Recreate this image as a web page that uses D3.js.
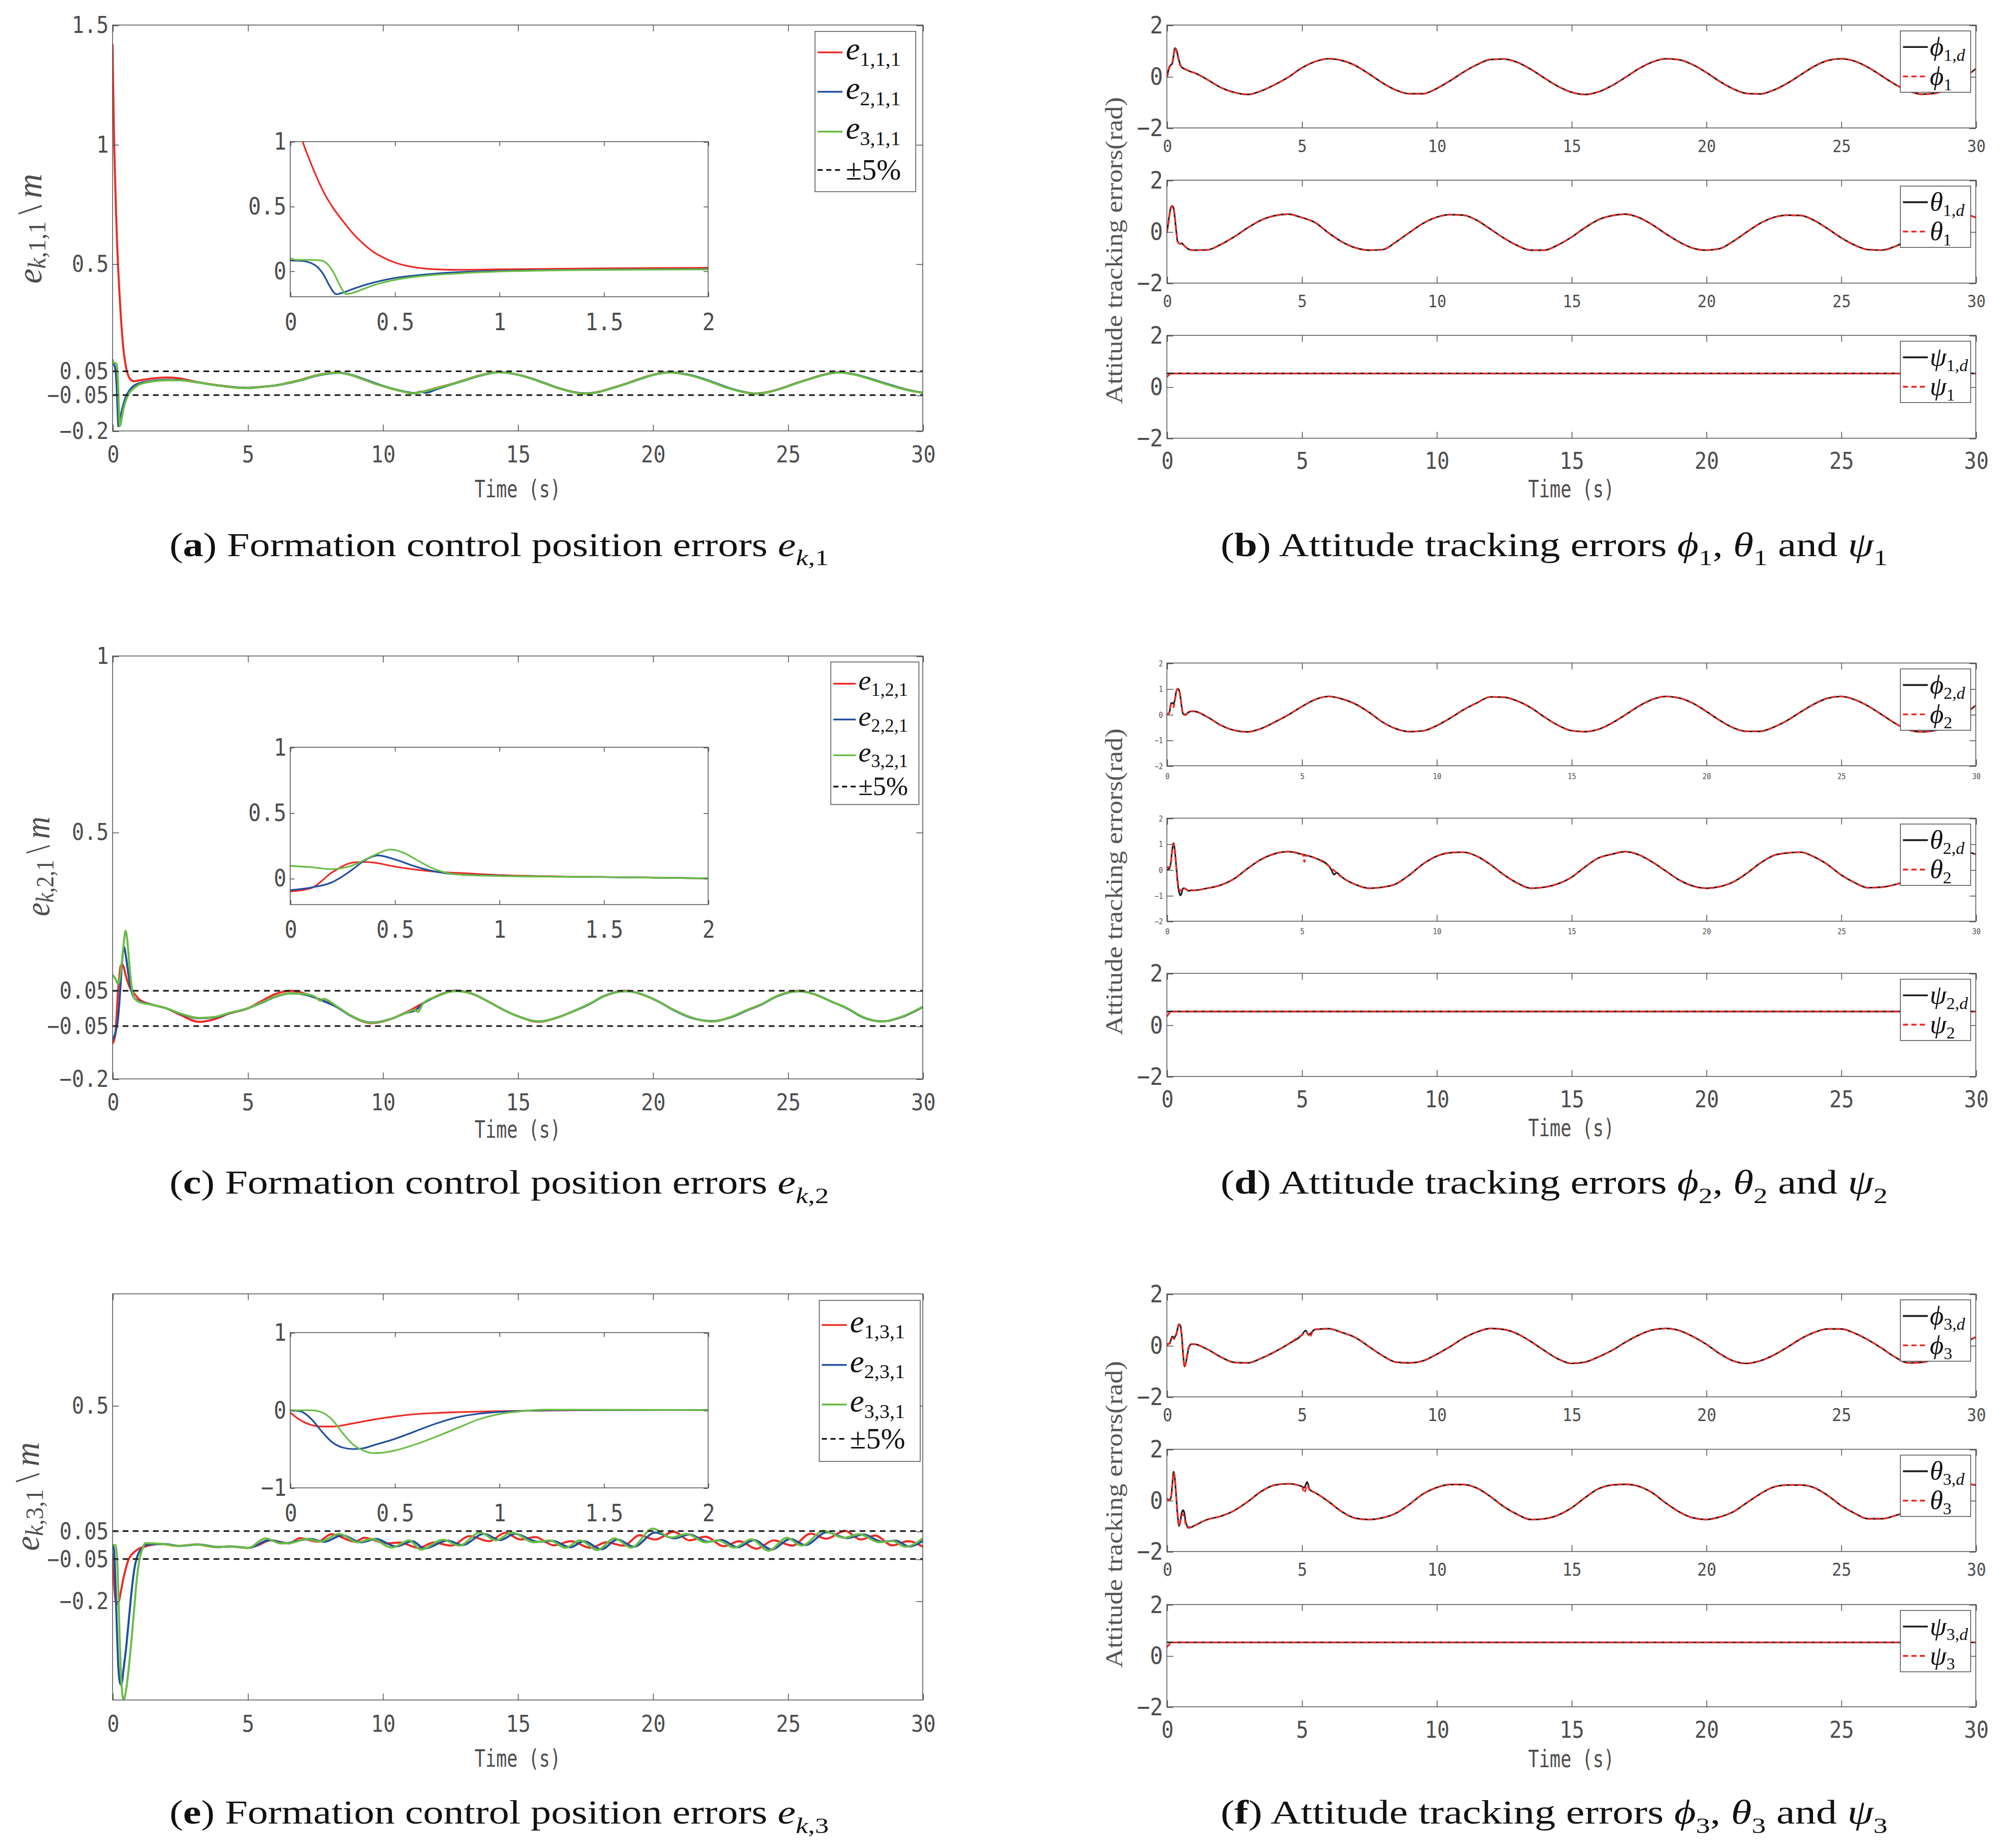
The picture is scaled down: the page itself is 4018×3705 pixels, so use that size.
<!DOCTYPE html>
<html>
<head>
<meta charset="utf-8">
<script src="https://cdn.jsdelivr.net/npm/d3@7/dist/d3.min.js"></script>
<style>
  body { margin: 0; background: #fff; }
</style>
</head>
<body>
<script>
// ---------- values ----------
// panel (a): e_{k,1,1}, pairs [time s, error m]
const e111 = [[0,1.42],[0.02,1.26],[0.04,1.12],[0.06,1.0],[0.09,0.87],[0.12,0.75],[0.16,0.61],[0.2,0.5],[0.25,0.39],[0.3,0.29],[0.35,0.21],[0.4,0.145],[0.45,0.1],[0.5,0.065],[0.55,0.042],[0.6,0.027],[0.7,0.012],[0.8,0.008],[1.0,0.012],[1.5,0.02],[2.0,0.024],[2.5,0.02],[3.0,0.008],[3.5,-0.002],[4.0,-0.01],[4.5,-0.017],[5.0,-0.02],[5.5,-0.015],[6.0,-0.01],[6.5,0.002],[7.0,0.015],[7.5,0.032],[8.0,0.042],[8.3,0.045],[8.8,0.035],[9.3,0.015],[9.8,-0.005],[10.3,-0.022],[10.8,-0.036],[11.1,-0.042],[11.5,-0.035],[12.0,-0.02],[12.5,-0.005],[13.0,0.012],[13.5,0.03],[14.0,0.043],[14.3,0.047],[14.8,0.04],[15.5,0.02],[16.0,0.0],[16.5,-0.02],[17.0,-0.035],[17.5,-0.043],[18.0,-0.036],[18.5,-0.02],[19.0,-0.002],[19.5,0.018],[20.0,0.035],[20.6,0.046],[21.2,0.038],[21.8,0.02],[22.3,0.0],[22.8,-0.02],[23.3,-0.035],[23.8,-0.043],[24.3,-0.036],[24.8,-0.02],[25.3,0.0],[25.8,0.018],[26.3,0.035],[26.9,0.046],[27.5,0.036],[28.0,0.02],[28.5,0.002],[29.0,-0.015],[29.5,-0.03],[30.0,-0.04]];
const e211 = [[0,0.08],[0.05,0.078],[0.1,0.06],[0.13,0.03],[0.16,-0.03],[0.19,-0.12],[0.22,-0.18],[0.25,-0.17],[0.3,-0.14],[0.4,-0.09],[0.5,-0.055],[0.6,-0.035],[0.7,-0.02],[0.8,-0.01],[1.0,0.0],[1.5,0.01],[2.0,0.014],[2.5,0.013],[3.0,0.006],[3.5,-0.003],[4.0,-0.011],[4.5,-0.017],[5.0,-0.02],[5.5,-0.016],[6.0,-0.01],[6.5,0.0],[7.0,0.013],[7.5,0.03],[8.0,0.04],[8.4,0.044],[8.9,0.033],[9.4,0.013],[9.9,-0.007],[10.4,-0.024],[10.9,-0.037],[11.2,-0.042],[11.4,-0.036],[11.6,-0.04],[12.0,-0.025],[12.5,-0.007],[13.0,0.01],[13.5,0.028],[14.0,0.042],[14.3,0.046],[14.8,0.04],[15.5,0.02],[16.0,0.0],[16.5,-0.02],[17.0,-0.036],[17.5,-0.043],[18.0,-0.037],[18.5,-0.021],[19.0,-0.003],[19.5,0.016],[20.0,0.034],[20.6,0.045],[21.2,0.038],[21.8,0.021],[22.3,0.001],[22.8,-0.019],[23.3,-0.035],[23.8,-0.044],[24.3,-0.037],[24.8,-0.021],[25.3,-0.001],[25.8,0.017],[26.3,0.034],[26.9,0.045],[27.5,0.036],[28.0,0.021],[28.5,0.003],[29.0,-0.014],[29.5,-0.03],[30.0,-0.04]];
const e311 = [[0,0.1],[0.03,0.085],[0.1,0.085],[0.15,0.08],[0.18,0.05],[0.21,-0.02],[0.24,-0.12],[0.27,-0.18],[0.3,-0.17],[0.35,-0.14],[0.4,-0.11],[0.5,-0.07],[0.6,-0.045],[0.7,-0.03],[0.8,-0.02],[1.0,-0.005],[1.5,0.008],[2.0,0.012],[2.5,0.012],[3.0,0.006],[3.5,-0.003],[4.0,-0.011],[4.5,-0.018],[5.0,-0.021],[5.5,-0.016],[6.0,-0.01],[6.5,0.001],[7.0,0.014],[7.5,0.031],[8.0,0.041],[8.3,0.044],[8.8,0.035],[9.3,0.015],[9.8,-0.005],[10.3,-0.022],[10.8,-0.036],[11.1,-0.043],[11.5,-0.036],[12.0,-0.021],[12.5,-0.006],[13.0,0.011],[13.5,0.029],[14.0,0.042],[14.3,0.046],[14.8,0.04],[15.5,0.019],[16.0,-0.001],[16.5,-0.021],[17.0,-0.036],[17.5,-0.044],[18.0,-0.037],[18.5,-0.021],[19.0,-0.003],[19.5,0.017],[20.0,0.034],[20.6,0.045],[21.2,0.037],[21.8,0.019],[22.3,-0.001],[22.8,-0.021],[23.3,-0.036],[23.8,-0.044],[24.3,-0.037],[24.8,-0.021],[25.3,-0.001],[25.8,0.017],[26.3,0.034],[26.9,0.045],[27.5,0.035],[28.0,0.019],[28.5,0.001],[29.0,-0.016],[29.5,-0.031],[30.0,-0.04]];

// panel (c): e_{k,2,1}
const e121 = [[0,-0.1],[0.1,-0.075],[0.2,0.045],[0.3,0.12],[0.35,0.125],[0.4,0.12],[0.5,0.09],[0.6,0.067],[0.7,0.05],[0.8,0.042],[1.0,0.025],[1.5,0.01],[2.0,0.0],[2.5,-0.018],[3.2,-0.038],[3.8,-0.03],[4.3,-0.015],[5.0,0.0],[5.5,0.02],[6.0,0.04],[6.6,0.05],[7.2,0.04],[7.7,0.025],[8.3,0.005],[8.8,-0.02],[9.6,-0.042],[10.3,-0.03],[10.9,-0.01],[11.5,0.015],[12.0,0.035],[12.7,0.05],[13.3,0.042],[13.9,0.02],[14.5,-0.005],[15.0,-0.022],[15.8,-0.038],[16.5,-0.025],[17.0,-0.01],[17.6,0.01],[18.2,0.035],[19.0,0.05],[19.6,0.04],[20.2,0.02],[20.8,-0.005],[21.4,-0.025],[22.2,-0.037],[22.9,-0.025],[23.5,-0.005],[24.0,0.01],[24.6,0.035],[25.4,0.05],[26.0,0.04],[26.6,0.02],[27.2,0.0],[27.8,-0.025],[28.5,-0.037],[29.2,-0.025],[30.0,0.004]];
const e221 = [[0,-0.09],[0.1,-0.07],[0.2,-0.03],[0.25,0.015],[0.3,0.07],[0.35,0.13],[0.42,0.175],[0.5,0.145],[0.6,0.09],[0.7,0.05],[0.8,0.03],[1.0,0.02],[1.5,0.01],[2.0,0.0],[2.5,-0.015],[3.2,-0.028],[3.8,-0.025],[4.3,-0.014],[5.0,0.0],[5.5,0.015],[6.0,0.032],[6.6,0.043],[7.2,0.038],[7.7,0.024],[8.3,0.004],[8.8,-0.02],[9.6,-0.04],[10.3,-0.03],[10.9,-0.012],[11.2,-0.006],[11.5,0.014],[12.0,0.034],[12.7,0.05],[13.3,0.042],[13.9,0.02],[14.5,-0.005],[15.0,-0.022],[15.8,-0.037],[16.5,-0.025],[17.0,-0.01],[17.6,0.01],[18.2,0.035],[19.0,0.049],[19.6,0.04],[20.2,0.02],[20.8,-0.006],[21.4,-0.026],[22.2,-0.036],[22.9,-0.025],[23.5,-0.005],[24.0,0.01],[24.6,0.034],[25.4,0.049],[26.0,0.04],[26.6,0.02],[27.2,0.0],[27.8,-0.026],[28.5,-0.037],[29.2,-0.025],[30.0,0.004]];
const e321 = [[0,0.095],[0.1,0.085],[0.2,0.07],[0.25,0.078],[0.3,0.1],[0.4,0.175],[0.48,0.22],[0.55,0.19],[0.6,0.145],[0.7,0.065],[0.8,0.03],[1.0,0.018],[1.5,0.01],[2.0,0.0],[2.5,-0.014],[3.2,-0.027],[3.8,-0.024],[4.3,-0.013],[5.0,0.0],[5.5,0.016],[6.0,0.033],[6.6,0.043],[7.2,0.04],[7.5,0.033],[7.7,0.022],[7.8,0.027],[8.3,0.006],[8.8,-0.019],[9.6,-0.041],[10.3,-0.03],[10.9,-0.012],[11.2,-0.004],[11.3,-0.01],[11.5,0.014],[12.0,0.034],[12.7,0.049],[13.3,0.042],[13.9,0.02],[14.5,-0.005],[15.0,-0.022],[15.8,-0.037],[16.5,-0.025],[17.0,-0.01],[17.6,0.011],[18.2,0.035],[19.0,0.049],[19.6,0.04],[20.2,0.02],[20.8,-0.005],[21.4,-0.025],[22.2,-0.037],[22.9,-0.024],[23.5,-0.004],[24.0,0.011],[24.6,0.035],[25.4,0.049],[26.0,0.04],[26.6,0.02],[27.2,0.001],[27.8,-0.025],[28.5,-0.037],[29.2,-0.024],[30.0,0.005]];

// panel (e): e_{k,3,1}
const e131 = [[0,-0.03],[0.05,-0.13],[0.1,-0.19],[0.15,-0.21],[0.2,-0.21],[0.3,-0.17],[0.4,-0.12],[0.5,-0.08],[0.6,-0.05],[0.7,-0.035],[0.8,-0.025],[1.0,-0.012],[1.2,-0.005],[1.4,0.0],[1.8,0.004],[2.4,-0.003],[3.1,0.002],[3.8,-0.007],[4.3,-0.005],[5.0,-0.01],[5.4,0.0],[5.85,0.017],[6.54,0.006],[6.93,0.025],[7.6,0.012],[8.1,0.039],[8.98,0.012],[9.32,0.026],[10.15,0.006],[10.63,0.009],[11.32,-0.01],[11.9,0.009],[12.54,-0.002],[13.22,0.032],[13.95,0.014],[14.54,0.044],[15.1,0.02],[15.65,0.029],[16.34,-0.001],[16.97,0.014],[17.7,-0.01],[18.29,0.01],[18.92,-0.002],[19.51,0.035],[20.09,0.02],[20.78,0.048],[21.36,0.017],[21.95,0.03],[22.63,-0.004],[23.21,0.014],[23.85,-0.013],[24.48,0.017],[25.17,-0.002],[25.85,0.041],[26.43,0.023],[27.12,0.051],[27.7,0.02],[28.24,0.034],[28.87,-0.001],[29.46,0.014],[30.0,-0.006]];
const e231 = [[0,0.0],[0.05,-0.015],[0.1,-0.11],[0.15,-0.27],[0.2,-0.41],[0.25,-0.48],[0.3,-0.5],[0.35,-0.49],[0.4,-0.45],[0.5,-0.37],[0.6,-0.27],[0.7,-0.17],[0.8,-0.09],[0.9,-0.045],[1.0,-0.022],[1.1,-0.01],[1.3,0.002],[1.9,0.004],[2.5,-0.003],[3.2,0.002],[3.9,-0.007],[4.4,-0.005],[5.05,-0.01],[5.8,0.018],[6.4,0.007],[7.3,0.022],[7.85,0.012],[8.5,0.035],[9.2,0.01],[9.75,0.022],[10.5,-0.005],[11.1,0.014],[11.55,-0.012],[12.4,0.016],[12.95,0.0],[13.75,0.04],[14.35,0.018],[14.9,0.04],[15.75,0.012],[16.3,0.015],[16.95,-0.008],[17.45,0.014],[18.1,-0.015],[18.7,0.02],[19.3,-0.006],[20.1,0.045],[20.8,0.024],[21.35,0.038],[22.05,0.012],[22.55,0.018],[23.15,-0.008],[23.75,0.018],[24.4,-0.016],[25.1,0.022],[25.65,0.0],[26.45,0.046],[27.2,0.025],[27.8,0.038],[28.5,0.012],[29.0,0.016],[29.5,-0.005],[30.0,0.015]];
const e331 = [[0,0.0],[0.1,0.0],[0.15,-0.025],[0.2,-0.12],[0.25,-0.29],[0.3,-0.44],[0.35,-0.52],[0.4,-0.553],[0.45,-0.545],[0.5,-0.52],[0.6,-0.44],[0.7,-0.34],[0.8,-0.23],[0.9,-0.12],[1.0,-0.05],[1.1,-0.015],[1.22,0.007],[1.85,0.004],[2.44,-0.003],[3.12,0.002],[3.8,-0.007],[4.3,-0.005],[5.02,-0.01],[5.66,0.024],[6.24,0.006],[6.63,0.008],[7.17,0.022],[7.7,0.013],[8.39,0.04],[9.07,0.01],[9.6,0.022],[10.34,-0.009],[10.98,0.017],[11.41,-0.016],[12.24,0.019],[12.83,-0.002],[13.61,0.045],[14.2,0.017],[14.78,0.045],[15.6,0.01],[16.19,0.017],[16.77,-0.01],[17.31,0.017],[17.95,-0.018],[18.58,0.024],[19.21,-0.009],[20.0,0.059],[20.68,0.027],[21.26,0.04],[21.95,0.01],[22.43,0.017],[23.02,-0.009],[23.65,0.021],[24.29,-0.02],[24.97,0.026],[25.51,-0.002],[26.34,0.051],[27.07,0.026],[27.65,0.039],[28.39,0.01],[28.87,0.015],[29.36,-0.006],[30.0,0.024]];

// attitude angles (rad): common time grid after the start-up transient
const tWave = [1,1.5,2,2.5,3,3.5,4,4.5,5,5.5,6,6.5,7,7.5,8,8.5,9,9.5,10,10.5,11,11.5,12,12.5,13,13.5,14,14.5,15,15.5,16,16.5,17,17.5,18,18.5,19,19.5,20,20.5,21,21.5,22,22.5,23,23.5,24,24.5,25,25.5,26,26.5,27,27.5,28,28.5,29,29.5,30];
const phi1Wave = [0.15,-0.12,-0.43,-0.62,-0.70,-0.56,-0.32,-0.03,0.33,0.58,0.69,0.62,0.42,0.10,-0.25,-0.53,-0.67,-0.67,-0.47,-0.17,0.17,0.46,0.66,0.68,0.55,0.28,-0.06,-0.38,-0.61,-0.70,-0.60,-0.36,-0.04,0.30,0.56,0.69,0.65,0.46,0.16,-0.19,-0.48,-0.66,-0.68,-0.53,-0.27,0.06,0.39,0.62,0.69,0.60,0.36,0.03,-0.30,-0.56,-0.69,-0.65,-0.45,-0.10,0.30];
const theta1Wave = [-0.72,-0.71,-0.50,-0.20,0.15,0.45,0.62,0.68,0.55,0.35,-0.05,-0.40,-0.63,-0.72,-0.70,-0.40,-0.03,0.32,0.56,0.66,0.64,0.44,0.10,-0.25,-0.54,-0.72,-0.72,-0.52,-0.22,0.15,0.46,0.62,0.68,0.55,0.27,-0.08,-0.40,-0.64,-0.72,-0.66,-0.38,-0.02,0.32,0.55,0.64,0.63,0.44,0.12,-0.23,-0.52,-0.70,-0.72,-0.58,-0.30,0.10,0.44,0.64,0.68,0.55];
const phi2Wave = [0.12,-0.10,-0.42,-0.62,-0.68,-0.55,-0.30,-0.02,0.30,0.58,0.70,0.60,0.40,0.08,-0.30,-0.56,-0.67,-0.64,-0.44,-0.15,0.18,0.45,0.68,0.67,0.52,0.26,-0.10,-0.42,-0.63,-0.67,-0.58,-0.34,-0.02,0.32,0.58,0.70,0.64,0.44,0.12,-0.23,-0.52,-0.66,-0.66,-0.50,-0.24,0.09,0.40,0.63,0.70,0.58,0.33,0.00,-0.34,-0.60,-0.68,-0.62,-0.40,-0.05,0.35];
const theta2Wave = [-0.80,-0.72,-0.60,-0.35,0.05,0.40,0.62,0.70,0.60,0.45,0.15,-0.30,-0.58,-0.72,-0.68,-0.55,-0.20,0.22,0.52,0.66,0.68,0.52,0.20,-0.20,-0.52,-0.72,-0.68,-0.55,-0.30,0.10,0.45,0.60,0.70,0.58,0.30,-0.05,-0.40,-0.63,-0.72,-0.66,-0.48,-0.15,0.25,0.55,0.65,0.68,0.50,0.20,-0.20,-0.50,-0.70,-0.68,-0.58,-0.40,0.00,0.38,0.60,0.70,0.60];
const phi3Wave = [0.05,-0.15,-0.45,-0.66,-0.68,-0.50,-0.25,0.05,0.40,0.62,0.65,0.50,0.30,-0.05,-0.40,-0.65,-0.68,-0.60,-0.35,-0.05,0.28,0.52,0.66,0.62,0.45,0.15,-0.20,-0.52,-0.70,-0.65,-0.45,-0.20,0.12,0.40,0.60,0.66,0.58,0.35,0.05,-0.32,-0.60,-0.70,-0.60,-0.38,-0.08,0.25,0.50,0.64,0.64,0.48,0.22,-0.10,-0.45,-0.68,-0.66,-0.50,-0.22,0.08,0.32];
const theta3Wave = [-1.00,-0.75,-0.62,-0.40,-0.05,0.35,0.60,0.65,0.55,0.30,-0.05,-0.45,-0.70,-0.75,-0.68,-0.50,-0.15,0.25,0.50,0.62,0.62,0.48,0.15,-0.25,-0.55,-0.75,-0.72,-0.58,-0.30,0.10,0.45,0.60,0.63,0.55,0.30,-0.10,-0.45,-0.68,-0.75,-0.65,-0.45,-0.10,0.25,0.52,0.60,0.60,0.50,0.20,-0.20,-0.50,-0.72,-0.72,-0.60,-0.40,-0.05,0.35,0.58,0.65,0.60];

// start-up transients (t < 1 s): desired (d) and actual
const phi1dHead = [[0,0],[0.05,0.2],[0.1,0.4],[0.15,0.45],[0.2,0.5],[0.25,0.8],[0.3,1.1],[0.35,1.05],[0.4,0.85],[0.5,0.45],[0.6,0.32],[0.7,0.28],[0.85,0.2]];
const phi1Head = [[0,-0.05],[0.05,0.15],[0.1,0.35],[0.15,0.45],[0.2,0.55],[0.25,0.85],[0.3,1.12],[0.35,1.0],[0.4,0.8],[0.5,0.42],[0.6,0.32],[0.7,0.27],[0.85,0.2]];
const theta1dHead = [[0,0],[0.05,0.3],[0.1,0.7],[0.15,0.95],[0.2,1.0],[0.25,0.9],[0.3,0.5],[0.35,0.0],[0.4,-0.4],[0.45,-0.45],[0.5,-0.48],[0.55,-0.45],[0.6,-0.5],[0.7,-0.6],[0.8,-0.68],[0.9,-0.71]];
const theta1Head = [[0,-0.05],[0.05,0.25],[0.1,0.65],[0.15,0.9],[0.2,1.0],[0.25,0.92],[0.3,0.55],[0.35,0.05],[0.4,-0.35],[0.45,-0.45],[0.5,-0.47],[0.55,-0.45],[0.6,-0.5],[0.7,-0.6],[0.8,-0.68],[0.9,-0.71]];
const phi2dHead = [[0,0],[0.05,0.02],[0.1,0.1],[0.15,0.42],[0.2,0.45],[0.25,0.4],[0.3,0.6],[0.35,0.9],[0.4,1.0],[0.45,0.95],[0.5,0.7],[0.55,0.3],[0.6,0.02],[0.7,0.0],[0.8,0.08],[0.9,0.12]];
const phi2Head = [[0,0.05],[0.05,0.0],[0.1,0.12],[0.15,0.38],[0.2,0.4],[0.25,0.28],[0.3,0.55],[0.35,0.88],[0.4,1.0],[0.45,0.97],[0.5,0.72],[0.55,0.3],[0.6,0.0],[0.7,-0.02],[0.8,0.08],[0.9,0.12]];
const theta2dHead = [[0,0],[0.1,0.05],[0.15,0.3],[0.2,0.8],[0.25,1.03],[0.3,0.7],[0.35,0.1],[0.4,-0.5],[0.45,-0.85],[0.5,-1.0],[0.55,-0.9],[0.6,-0.72],[0.7,-0.75],[0.8,-0.82],[0.9,-0.8]];
const theta2Head = [[0,0.1],[0.1,0.1],[0.15,0.25],[0.2,0.75],[0.25,1.0],[0.3,0.75],[0.35,0.15],[0.4,-0.4],[0.45,-0.75],[0.5,-0.82],[0.55,-0.78],[0.6,-0.7],[0.7,-0.75],[0.8,-0.8],[0.9,-0.8]];
const phi3dHead = [[0,0.05],[0.1,0.07],[0.2,0.35],[0.27,0.3],[0.35,0.45],[0.45,0.82],[0.5,0.78],[0.55,0.4],[0.6,-0.3],[0.66,-0.82],[0.72,-0.6],[0.8,-0.15],[0.9,0.05]];
const phi3Head = [[0,0.0],[0.1,0.1],[0.2,0.3],[0.27,0.25],[0.35,0.4],[0.45,0.8],[0.5,0.75],[0.55,0.35],[0.6,-0.35],[0.66,-0.85],[0.72,-0.55],[0.8,-0.1],[0.9,0.05]];
const theta3dHead = [[0,0.05],[0.1,0.03],[0.15,0.1],[0.2,0.6],[0.25,1.12],[0.3,0.8],[0.35,0.1],[0.4,-0.6],[0.45,-1.0],[0.5,-0.8],[0.55,-0.5],[0.6,-0.38],[0.65,-0.5],[0.7,-0.85],[0.8,-1.05],[0.9,-1.05]];
const theta3Head = [[0,0.08],[0.1,0.0],[0.15,0.1],[0.2,0.55],[0.25,1.08],[0.3,0.85],[0.35,0.15],[0.4,-0.55],[0.45,-1.0],[0.5,-0.85],[0.55,-0.6],[0.6,-0.55],[0.65,-0.65],[0.7,-0.95],[0.8,-1.08],[0.9,-1.05]];
// short glitches around t = 5-6 s
const phi3dKink = [[5.15,0.58],[5.25,0.42]];
const phi3Kink = [[5.2,0.5],[5.3,0.32],[5.4,0.52]];
const theta2dKink = [[6.1,0.0],[6.2,-0.19],[6.3,-0.12]];
const theta2Kink = [[5.05,0.58],[5.1,0.3],[5.15,0.55]];
const theta3dKink = [[5.1,0.5],[5.2,0.72],[5.3,0.42]];
const theta3Kink = [[5.1,0.3],[5.2,0.6],[5.3,0.4]];
// yaw: constant reference, actual starts a little low
const psiRef = [[0,0.52],[30,0.52]];
const psi1Head = [[0,0.38],[0.08,0.46],[0.15,0.51],[0.3,0.52],[30,0.52]];
const psi2Head = [[0,0.33],[0.08,0.44],[0.15,0.5],[0.3,0.52],[30,0.52]];
const psi3Head = [[0,0.33],[0.1,0.45],[0.2,0.51],[0.3,0.52],[30,0.52]];

const timeTicks = [0,5,10,15,20,25,30];
const insetTicks = [0,0.5,1,1.5,2];

// ---------- drawing ----------
const W = 1568, H = 1446;
const red = '#ED2A25', blue = '#1F4F9F', green = '#6ABD45', black = '#1a1a1a';
const axisColor = '#4d4d4d', tickColor = '#4d4d4d';
const tickFont = '"DejaVu Sans Mono", "Liberation Mono", monospace';
const serif = '"Liberation Serif", "DejaVu Serif", serif';

const svg = d3.select('body').append('svg')
  .attr('width', 4018).attr('height', 3705)
  .attr('viewBox', `0 0 ${W} ${H}`);
svg.append('rect').attr('width', W).attr('height', H).attr('fill', '#fff');
const defs = svg.append('defs');
let clipCount = 0;

const fmt = d => (d < 0 ? '\u2212' : '') + String(Math.abs(d));

function stretch(sel, k) {
  sel.each(function() {
    const t = d3.select(this);
    const x = +t.attr('x') || 0, y = +t.attr('y') || 0;
    t.attr('x', null).attr('y', null).attr('transform', `translate(${x},${y}) scale(1,${k})`);
  });
}

// axes with inward ticks on all four sides, MATLAB style box
function axesBox(box, xDom, yDom, o) {
  const g = svg.append('g');
  const x = d3.scaleLinear().domain(xDom).range([box.x0, box.x1]);
  const y = d3.scaleLinear().domain(yDom).range([box.y1, box.y0]);
  g.append('rect').attr('x', box.x0).attr('y', box.y0)
    .attr('width', box.x1 - box.x0).attr('height', box.y1 - box.y0).attr('fill', '#fff');
  const id = 'clip' + (clipCount++);
  defs.append('clipPath').attr('id', id).append('rect')
    .attr('x', box.x0).attr('y', box.y0).attr('width', box.x1 - box.x0).attr('height', box.y1 - box.y0);
  const plot = g.append('g').attr('clip-path', `url(#${id})`);
  const tl = o.tick;

  const gb = g.append('g').attr('transform', `translate(0,${box.y1})`)
    .call(d3.axisBottom(x).tickValues(o.xTicks).tickSizeInner(-tl).tickSizeOuter(0).tickPadding(o.xPad).tickFormat(fmt));
  gb.attr('font-size', o.xFs);
  g.append('g').attr('transform', `translate(0,${box.y0})`)
    .call(d3.axisTop(x).tickValues(o.xTicks).tickSizeInner(-tl).tickSizeOuter(0).tickFormat(''));
  const gl = g.append('g').attr('transform', `translate(${box.x0},0)`)
    .call(d3.axisLeft(y).tickValues(o.yTicks).tickSizeInner(-tl).tickSizeOuter(0).tickPadding(o.yPad || 3).tickFormat(fmt));
  gl.attr('font-size', o.yFs);
  g.append('g').attr('transform', `translate(${box.x1},0)`)
    .call(d3.axisRight(y).tickValues(o.yTicks).tickSizeInner(-tl).tickSizeOuter(0).tickFormat(''));

  g.selectAll('.domain').remove();
  g.selectAll('.tick line').attr('stroke', axisColor).attr('stroke-width', 0.6);
  g.selectAll('g').attr('font-family', tickFont);
  g.selectAll('.tick text').attr('fill', tickColor);
  stretch(gb.selectAll('.tick text'), 1.12);
  stretch(gl.selectAll('.tick text'), 1.12);

  g.append('rect').attr('x', box.x0).attr('y', box.y0)
    .attr('width', box.x1 - box.x0).attr('height', box.y1 - box.y0)
    .attr('fill', 'none').attr('stroke', axisColor).attr('stroke-width', 0.6);
  return { x, y, g, plot };
}

function drawLine(ax, data, color, width, dash) {
  ax.plot.append('path').datum(data)
    .attr('fill', 'none').attr('stroke', color).attr('stroke-width', width)
    .attr('stroke-dasharray', dash || null).attr('stroke-linejoin', 'round')
    .attr('d', d3.line().x(d => ax.x(d[0])).y(d => ax.y(d[1])).curve(d3.curveMonotoneX));
}

// rich text: parts [text, flags] with flags i=italic, b=bold, s=subscript
function rich(text, parts, base, subShift, subScale) {
  let shift = 0;
  parts.forEach(([txt, f]) => {
    const sub = f.includes('s');
    const target = sub ? base * (subShift == null ? 0.3 : subShift) : 0;
    const ts = text.append('tspan').text(txt)
      .attr('font-size', sub ? base * (subScale || 0.68) : base)
      .attr('font-style', f.includes('i') ? 'italic' : 'normal')
      .attr('font-weight', f.includes('b') ? 'bold' : 'normal');
    if (target !== shift) { ts.attr('dy', target - shift); shift = target; }
  });
  return text;
}

function timeLabel(cx, cy) {
  svg.append('text').text('Time (s)')
    .attr('font-family', tickFont).attr('font-size', 14).attr('fill', tickColor)
    .attr('text-anchor', 'middle').attr('dominant-baseline', 'central')
    .attr('transform', `translate(${cx},${cy}) scale(1,1.35)`);
}

function caption(cx, y, letter, parts, width) {
  const t = svg.append('text').attr('x', cx).attr('y', y)
    .attr('font-family', serif).attr('fill', '#111').attr('text-anchor', 'middle')
    .attr('textLength', width).attr('lengthAdjust', 'spacingAndGlyphs');
  rich(t, [['(', ''], [letter, 'b'], [')', '']].concat(parts), 26, 0.28);
}

// ---------- left column: formation position errors ----------
const leftPanels = [
  { box: {x0: 88, x1: 722, y0: 19.6, y1: 337.2}, yDom: [-0.2, 1.5], yTicks: [-0.2, -0.05, 0.05, 0.5, 1, 1.5],
    inset: {x0: 227, x1: 554, y0: 110.8, y1: 232.2}, iDom: [-0.2, 1], iTicks: [0, 0.5, 1],
    series: [e111, e211, e311], j: '1',
    leg: {x: 637.7, y: 24.6, w: 78.8, h: 125.4, rows: [16.4, 47.2, 78.4, 108.4], s: 1},
    ylab: {x: 23, y: 179, len: 86}, time: 382.4, cap: {y: 435, letter: 'a'} },
  { box: {x0: 88, x1: 722, y0: 513.3, y1: 844.2}, yDom: [-0.2, 1], yTicks: [-0.2, -0.05, 0.05, 0.5, 1],
    inset: {x0: 227, x1: 554, y0: 584.7, y1: 707.8}, iDom: [-0.2, 1], iTicks: [0, 0.5, 1],
    series: [e121, e221, e321], j: '2',
    leg: {x: 650, y: 518, w: 69, h: 111.5, rows: [17, 45, 73, 97.5], s: 0.9},
    ylab: {x: 29, y: 678, len: 78}, time: 883.4, cap: {y: 934, letter: 'c'} },
  { box: {x0: 88, x1: 722, y0: 1012.4, y1: 1330.2}, yDom: [-0.555, 0.9], yTicks: [-0.2, -0.05, 0.05, 0.5],
    inset: {x0: 227, x1: 554, y0: 1042.7, y1: 1164.2}, iDom: [-1, 1], iTicks: [-1, 0, 1],
    series: [e131, e231, e331], j: '3',
    leg: {x: 641, y: 1017.5, w: 79, h: 126, rows: [19.3, 50.5, 81.5, 108.4], s: 1},
    ylab: {x: 21, y: 1171, len: 85}, time: 1375.6, cap: {y: 1427, letter: 'e'} }
];
const lineColors = [red, blue, green];

leftPanels.forEach(p => {
  const ax = axesBox(p.box, [0, 30], p.yDom,
    {xTicks: timeTicks, yTicks: p.yTicks, tick: 5, xPad: 12, xFs: 16, yFs: 16});
  p.series.forEach((s, i) => drawLine(ax, s, lineColors[i], 1.6));
  [0.05, -0.05].forEach(v => drawLine(ax, [[0, v], [30, v]], black, 1.3, '4.5,3.4'));

  const ins = axesBox(p.inset, [0, 2], p.iDom,
    {xTicks: insetTicks, yTicks: p.iTicks, tick: 3.5, xPad: 13, xFs: 16.5, yFs: 16.5});
  p.series.forEach((s, i) => drawLine(ins, s.filter(d => d[0] <= 2.6), lineColors[i], 1.3));

  // legend
  const L = p.leg, s = L.s;
  const lg = svg.append('g');
  lg.append('rect').attr('x', L.x).attr('y', L.y).attr('width', L.w).attr('height', L.h)
    .attr('fill', '#fff').attr('stroke', axisColor).attr('stroke-width', 0.6);
  const names = ['1', '2', '3'];
  L.rows.forEach((ry, i) => {
    const yy = L.y + ry;
    lg.append('line').attr('x1', L.x + 2).attr('x2', L.x + 2 + 19.5 * s).attr('y1', yy).attr('y2', yy)
      .attr('stroke', i < 3 ? lineColors[i] : black).attr('stroke-width', 1.4)
      .attr('stroke-dasharray', i < 3 ? null : '4,2.8');
    const t = lg.append('text').attr('x', L.x + 24 * s).attr('y', yy + (i < 3 ? 5.5 : 7.5) * s)
      .attr('font-family', serif).attr('fill', '#111');
    if (i < 3) rich(t, [['e', 'i'], [`${names[i]},${p.j},1`, 's']], 25 * s, 0.2, 0.64);
    else rich(t, [['\u00B15%', '']], 23 * s);
  });

  // y label
  const yl = svg.append('text')
    .attr('transform', `translate(${p.ylab.x},${p.ylab.y}) rotate(-90)`)
    .attr('text-anchor', 'middle').attr('dominant-baseline', 'central')
    .attr('font-family', serif).attr('fill', '#4d4d4d')
    .attr('textLength', p.ylab.len).attr('lengthAdjust', 'spacingAndGlyphs');
  rich(yl, [['e', 'i'], ['k', 'si'], [`,${p.j},1`, 's'], ['\u2009\\\u2009', ''], ['m', 'i']], 27, 0.22, 0.72);

  timeLabel((p.box.x0 + p.box.x1) / 2, p.time);
  caption(390.5, p.cap.y, p.cap.letter,
    [[' Formation control position errors ', ''], ['e', 'i'], ['k', 'si'], [',' + p.j, 's']], 516);
});

// ---------- right column: attitude tracking ----------
function att(head, wave, kink) {
  return head.concat(tWave.map((t, i) => [t, wave[i]])).concat(kink || []).sort((a, b) => a[0] - b[0]);
}
const rightPanels = [
  { rows: [[19.6, 100.1], [141, 221.5], [262.4, 342.9]], j: '1', small: {x: 12, y: 17, xc: 13.5}, yTop: [-2, 0, 2],
    data: [[att(phi1dHead, phi1Wave), att(phi1Head, phi1Wave)],
           [att(theta1dHead, theta1Wave), att(theta1Head, theta1Wave)],
           [psiRef, psi1Head]],
    ylab: 196, time: 382.6, cap: {y: 435, letter: 'b'} },
  { rows: [[518.8, 599.2], [640.2, 720.8], [761.6, 842.3]], j: '2', small: {x: 5.5, y: 5.5, xc: 7.8}, yTop: [-2, -1, 0, 1, 2],
    data: [[att(phi2dHead, phi2Wave), att(phi2Head, phi2Wave)],
           [att(theta2dHead, theta2Wave, theta2dKink), att(theta2Head, theta2Wave, theta2Kink)],
           [psiRef, psi2Head]],
    ylab: 690, time: 882.6, cap: {y: 934, letter: 'd'} },
  { rows: [[1012.5, 1093], [1134, 1214], [1255.5, 1335.5]], j: '3', small: {x: 12.5, y: 17, xc: 13.5}, yTop: [-2, 0, 2],
    data: [[att(phi3dHead, phi3Wave, phi3dKink), att(phi3Head, phi3Wave, phi3Kink)],
           [att(theta3dHead, theta3Wave, theta3dKink), att(theta3Head, theta3Wave, theta3Kink)],
           [psiRef, psi3Head]],
    ylab: 1185, time: 1376, cap: {y: 1427, letter: 'f'} }
];
const angleSym = ['\u03D5', '\u03B8', '\u03C8'];

rightPanels.forEach(p => {
  p.rows.forEach(([y0, y1], r) => {
    const last = r === 2;
    const xFs = last ? 16 : p.small.x;
    const yFs = last ? 17 : p.small.y;
    const xc = last ? 17 : p.small.xc;
    const ax = axesBox({x0: 913, x1: 1546, y0, y1}, [0, 30], [-2, 2],
      {xTicks: timeTicks, yTicks: last ? [-2, 0, 2] : p.yTop, tick: 5,
       xPad: xc - 0.35 * xFs, xFs, yFs, yPad: 3});
    const [des, act] = p.data[r];
    drawLine(ax, des, black, 1.25);
    drawLine(ax, act, red, 1.35, '4,2.2');

    // legend
    const lx = 1487, ly = y0 + 4.6, lw = 55, lh = 48;
    const lg = svg.append('g');
    lg.append('rect').attr('x', lx).attr('y', ly).attr('width', lw).attr('height', lh)
      .attr('fill', '#fff').attr('stroke', axisColor).attr('stroke-width', 0.6);
    [12.6, 35.6].forEach((ry, k) => {
      lg.append('line').attr('x1', lx + 2).attr('x2', lx + 21.5).attr('y1', ly + ry).attr('y2', ly + ry)
        .attr('stroke', k ? red : black).attr('stroke-width', 1.4).attr('stroke-dasharray', k ? '4,2.6' : null);
      const t = lg.append('text').attr('x', lx + 23).attr('y', ly + ry + 6.5)
        .attr('font-family', serif).attr('fill', '#111');
      const parts = k ? [[angleSym[r], 'i'], [p.j, 's']] : [[angleSym[r], 'i'], [p.j + ',', 's'], ['d', 'si']];
      rich(t, parts, 21, 0.2, 0.64);
    });
  });

  svg.append('text').text('Attitude tracking errors(rad)')
    .attr('transform', `translate(872,${p.ylab}) rotate(-90)`)
    .attr('text-anchor', 'middle').attr('dominant-baseline', 'central')
    .attr('font-family', serif).attr('font-size', 19).attr('fill', '#555')
    .attr('textLength', 240).attr('lengthAdjust', 'spacingAndGlyphs');

  timeLabel(1229.5, p.time);
  caption(1216, p.cap.y, p.cap.letter,
    [[' Attitude tracking errors ', ''], ['\u03D5', 'i'], [p.j, 's'], [', ', ''], ['\u03B8', 'i'], [p.j, 's'],
     [' and ', ''], ['\u03C8', 'i'], [p.j, 's']], 522);
});
</script>
</body>
</html>
